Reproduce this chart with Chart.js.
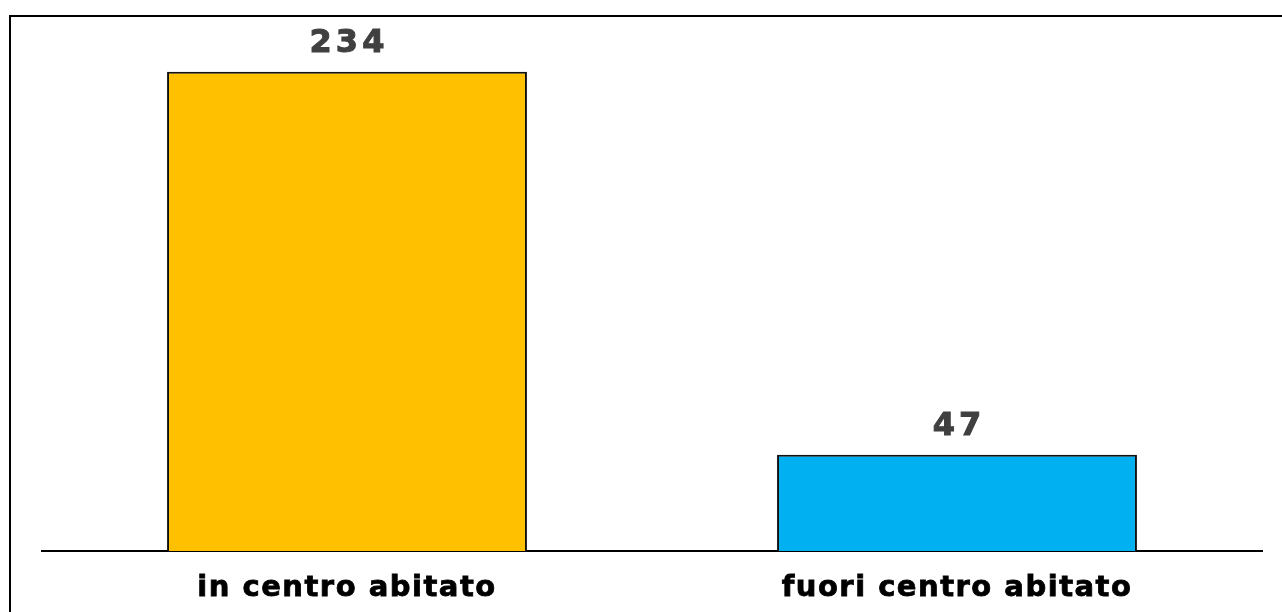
<!DOCTYPE html>
<html>
<head>
<meta charset="utf-8">
<script src="https://cdn.jsdelivr.net/npm/chart.js@4"></script>
<style>
  html, body { margin: 0; padding: 0; background: #fff; overflow: hidden; }
  #wrap { position: relative; width: 1282px; height: 612px; }
  #frame {
    position: absolute; left: 9px; top: 15px; width: 1400px; height: 800px;
    border: 2px solid #000; box-sizing: border-box; pointer-events: none;
  }
  canvas { position: absolute; left: 0; top: 0; }
</style>
</head>
<body>
<div id="wrap">
  <div id="frame"></div>
  <canvas id="chart" width="1282" height="612"></canvas>
</div>
<script>
// ── DATA ──────────────────────────────────────────────
const categories = ['in centro abitato', 'fuori centro abitato'];
const values     = [234, 47];
const barColors  = ['#FFC000', '#00B0F0'];
const yMax       = 250;

const labelFont = "'DejaVu Sans', sans-serif";

// slight letter spacing for all chart text (reference text is wide)
const spacingPlugin = {
  id: 'spacing',
  beforeDraw(chart) { chart.ctx.letterSpacing = '1.5px'; },
  afterDraw(chart)  { chart.ctx.letterSpacing = '0px'; },
};

// value labels above each bar
const valueLabels = {
  id: 'valueLabels',
  afterDatasetsDraw(chart) {
    const ctx = chart.ctx;
    const meta = chart.getDatasetMeta(0);
    ctx.save();
    ctx.letterSpacing = '4px';
    ctx.font = `bold 32px ${labelFont}`;
    ctx.fillStyle = '#404040';
    ctx.strokeStyle = '#404040';
    ctx.lineWidth = 1;
    ctx.textAlign = 'center';
    ctx.textBaseline = 'alphabetic';
    meta.data.forEach((bar, i) => {
      const txt = String(values[i]);
      ctx.fillText(txt, bar.x + 2, bar.y - 20);
      ctx.strokeText(txt, bar.x + 2, bar.y - 20);
    });
    ctx.restore();
  },
};

new Chart(document.getElementById('chart'), {
  type: 'bar',
  data: {
    labels: categories,
    datasets: [{
      data:               values,
      backgroundColor:    barColors,
      borderColor:        '#111',
      borderWidth:        2,
      barPercentage:      0.59,
      categoryPercentage: 1,
    }],
  },
  options: {
    responsive: false,
    animation:  false,
    layout: { padding: { left: 42, right: 20, top: 39, bottom: 0 } },
    plugins: {
      legend:  { display: false },
      tooltip: { enabled: false },
    },
    scales: {
      x: {
        grid:   { display: false, drawTicks: false },
        border: { display: true, color: '#000', width: 2 },
        afterFit(scale) { scale.height = 61; },
        ticks:  {
          color: '#000',
          padding: 20,
          textStrokeColor: '#000',
          textStrokeWidth: 0.8,
          font: { family: labelFont, size: 29, weight: 'bold' },
        },
      },
      y: {
        display: false,
        min: 0,
        max: yMax,
      },
    },
  },
  plugins: [spacingPlugin, valueLabels],
});
</script>
</body>
</html>
